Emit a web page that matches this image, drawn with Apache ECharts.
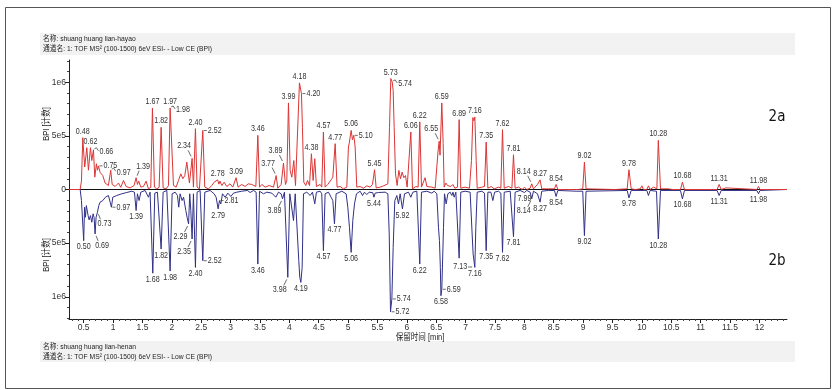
<!DOCTYPE html>
<html><head><meta charset="utf-8">
<script src="https://cdn.jsdelivr.net/npm/echarts@6/dist/echarts.min.js"></script>
<style>html,body{margin:0;padding:0;background:#fff}#c{width:834px;height:390px}</style>
</head><body><div id="c"></div>
<script>
// Retention time (min) and BPI (x1e5 counts) of the upper trace (shuang huang lian-hayao)
const hayaoTime = [0.25,0.44,0.462,0.485,0.502,0.518,0.553,0.581,0.615,0.638,0.666,0.689,0.717,0.734,0.751,0.779,0.825,0.865,0.921,0.96,0.985,1.035,1.092,1.131,1.177,1.222,1.29,1.358,1.392,1.415,1.437,1.472,1.517,1.562,1.602,1.642,1.67,1.704,1.744,1.784,1.818,1.852,1.903,1.943,1.971,1.994,2.028,2.073,2.113,2.153,2.187,2.221,2.255,2.277,2.3,2.345,2.368,2.402,2.43,2.47,2.493,2.527,2.561,2.624,2.68,2.72,2.75,2.78,2.80,2.82,2.85,2.89,2.936,2.99,3.037,3.094,3.128,3.19,3.247,3.3,3.361,3.43,3.464,3.492,3.532,3.588,3.656,3.73,3.775,3.804,3.861,3.9,3.934,3.957,3.985,4.014,4.042,4.076,4.105,4.139,4.172,4.206,4.223,4.246,4.28,4.309,4.343,4.376,4.405,4.433,4.461,4.524,4.552,4.58,4.609,4.654,4.711,4.74,4.78,4.813,4.864,4.921,4.978,5.006,5.023,5.052,5.074,5.097,5.12,5.148,5.205,5.262,5.319,5.375,5.415,5.45,5.478,5.546,5.603,5.677,5.705,5.727,5.75,5.767,5.784,5.807,5.835,5.864,5.892,5.92,5.948,5.977,6.005,6.039,6.068,6.096,6.152,6.192,6.22,6.249,6.283,6.311,6.34,6.425,6.482,6.51,6.53,6.55,6.565,6.595,6.618,6.635,6.664,6.692,6.72,6.749,6.783,6.817,6.862,6.89,6.918,6.992,7.066,7.1,7.123,7.14,7.157,7.18,7.197,7.276,7.322,7.35,7.379,7.436,7.486,7.56,7.6,7.628,7.657,7.731,7.788,7.815,7.843,7.9,7.962,8.002,8.041,8.098,8.126,8.155,8.223,8.268,8.296,8.41,8.512,8.54,8.57,8.865,8.894,8.92,8.994,9.022,9.05,9.545,9.75,9.78,9.818,9.886,9.971,10.0,10.027,10.084,10.112,10.14,10.198,10.255,10.28,10.317,10.453,10.48,10.51,10.657,10.69,10.725,11.28,11.315,11.35,11.43,11.457,11.956,11.985,12.01,12.47];
const hayaoBPI = [0,0,0.8,4.83,3.3,2.1,3.9,1.8,3.9,2.7,3.7,1.15,2.4,1.8,2.2,1.6,1.3,0.6,0.37,1.8,0.47,0.28,0.6,0.2,0.84,0.28,0.15,0.37,1.1,0.47,0.78,0.22,0.28,0.78,0.06,0.2,7.6,0.22,0.06,0.2,5.8,0.15,0.06,0.37,7.6,7.45,0.37,0.22,0.84,1.46,1.0,1.3,2.55,2.4,0.6,2.9,0.22,5.67,0.22,0.06,0.2,5.5,0.22,0.06,0.37,0.68,0.55,0.9,0.5,0.78,0.37,0.68,0.28,0.53,0.22,1.1,0.22,0.47,0.28,0.53,0.47,0.28,5.05,0.22,0.47,0.22,0.37,0.22,1.3,0.12,0.47,2.46,0.47,0.84,8.07,1.78,1.15,2.7,0.37,0.22,9.94,8.94,5.8,0.68,0.37,0.84,0.37,3.33,0.84,2.87,0.28,0.47,0.22,5.36,0.22,0.47,0.9,1.15,4.27,0.22,0.28,0.06,0.22,3.96,4.42,5.51,4.64,5.05,3.96,0.22,0.28,0.12,0.34,0.22,0.47,1.84,0.15,0.22,0.34,0.53,5.8,10.34,10.03,9.25,5.8,1.46,0.37,1.78,1.0,1.62,1.1,1.3,0.22,0.22,5.36,0.06,0.28,0.22,6.3,0.22,0.37,1.1,0.28,0.22,0.12,0.22,3.5,4.5,3.2,8.07,4.27,0.22,0.6,0.37,0.53,0.28,0.47,0.12,0.22,6.51,0.12,0.22,0.12,2.7,6.7,6.4,6.76,2.7,0.12,0.22,0.28,4.42,0.12,0.28,0.06,0.22,0.12,5.58,0.12,0.28,0.12,3.24,0.12,0.22,0,0.22,0,0.12,0.53,0.06,0.47,0.9,0.06,0.06,0.06,0.47,0,0,0.15,0,0.06,2.55,0.06,0,0.06,1.84,0.06,0,0.06,0.34,0,0,0.34,0,0.22,0.06,4.58,0.06,0.06,0.12,0,0,0.68,0,0,0.47,0,0.15,0,0,0.28,0,0];

// Retention time (min) and BPI (x1e5 counts) of the lower, mirrored trace (shuang huang lian-henan)
const henanTime = [0.25,0.44,0.462,0.5,0.515,0.53,0.545,0.558,0.575,0.592,0.615,0.638,0.66,0.677,0.694,0.711,0.734,0.757,0.779,0.825,0.87,0.921,0.95,0.972,0.995,1.063,1.148,1.233,1.318,1.364,1.392,1.415,1.443,1.472,1.545,1.602,1.63,1.676,1.71,1.755,1.818,1.852,1.915,1.971,2.005,2.056,2.096,2.118,2.141,2.175,2.2,2.238,2.26,2.285,2.305,2.323,2.345,2.368,2.402,2.43,2.482,2.527,2.561,2.652,2.72,2.754,2.788,2.811,2.834,2.862,2.908,2.953,3.004,3.049,3.106,3.19,3.287,3.333,3.39,3.435,3.464,3.492,3.56,3.617,3.702,3.77,3.815,3.861,3.884,3.917,3.974,4.008,4.042,4.071,4.1,4.133,4.161,4.178,4.196,4.218,4.241,4.297,4.354,4.394,4.433,4.461,4.524,4.552,4.58,4.609,4.665,4.711,4.74,4.768,4.796,4.893,4.967,4.995,5.023,5.052,5.08,5.109,5.143,5.205,5.245,5.279,5.319,5.358,5.42,5.44,5.46,5.517,5.631,5.677,5.7,5.722,5.745,5.767,5.795,5.83,5.858,5.886,5.925,5.96,6.028,6.068,6.102,6.17,6.22,6.249,6.34,6.425,6.465,6.51,6.538,6.555,6.57,6.58,6.595,6.624,6.641,6.669,6.698,6.737,6.766,6.785,6.805,6.834,6.862,6.89,6.918,6.992,7.077,7.111,7.128,7.14,7.157,7.174,7.197,7.276,7.322,7.35,7.379,7.43,7.464,7.493,7.56,7.6,7.628,7.657,7.759,7.788,7.815,7.843,7.928,8.002,8.041,8.098,8.126,8.155,8.223,8.268,8.296,8.41,8.512,8.54,8.57,8.894,8.994,9.022,9.05,9.75,9.78,9.818,10.084,10.112,10.14,10.249,10.28,10.317,10.657,10.69,10.725,11.28,11.315,11.35,11.956,11.985,12.01,12.47];
const henanBPI = [0,0,1.03,4.77,1.65,2.59,1.5,1.65,2.43,2.83,2.43,3.05,2.27,2.6,4.14,2.59,2.12,1.5,1.18,1.03,0.72,0.56,0.65,1.65,0.72,0.56,0.4,0.28,0.16,0.25,1.96,0.4,1.03,0.25,0.09,0.72,0.25,7.8,0.34,0.25,5.55,0.25,0.09,7.6,0.4,0.25,0.56,1.65,0.4,1.03,0.72,1.96,2.59,3.21,0.4,1.96,4.61,0.4,7.26,0.25,0.09,6.64,0.25,0.09,0.4,0.72,1.81,1.03,1.34,0.4,0.72,0.34,0.65,0.34,0.25,0.16,0.09,0.28,0.09,0.25,6.95,0.16,0.4,0.25,0.34,0.72,0.25,0.4,0.87,0.25,8.19,0.4,0.25,2.9,0.4,0.25,6.64,8.19,8.66,7.26,0.4,0.25,0.56,0.25,1.34,0.25,0.16,0.4,5.7,0.4,0.25,0.72,1.03,3.2,0.4,0.16,0.4,1.65,3.52,5.86,2.9,1.34,0.4,0.16,0.56,0.25,0.47,0.25,0.3,0.72,0.34,0.28,0.25,0.4,4.14,11.4,10.2,5.4,1.03,0.56,1.34,0.4,1.81,0.4,0.25,0.72,0.25,0.16,6.95,0.25,0.16,0.34,0.16,0.4,3.52,4.77,7.26,9.9,9.3,3.52,0.4,1.34,0.4,0.25,0.56,0.25,0.72,0.25,0.4,6.4,0.25,0.16,0.25,4.14,6.01,5.9,7.26,3.52,0.25,0.16,0.34,5.7,0.25,0.25,1.03,0.25,0.16,0.34,5.86,0.25,0.16,0.34,4.4,0.25,0.09,0.28,0.09,0.25,0.87,0.16,0.4,1.18,0.16,0.09,0.09,0.65,0.09,0.16,0.16,4.3,0.16,0.09,0.78,0.09,0.09,0.56,0.09,0.16,4.61,0.09,0.09,0.87,0.09,0.09,0.56,0.09,0.09,0.4,0.09,0];

// Peak annotations (retention times printed on the chart)
const hayaoPeakLabels = ['0.48','0.62','0.66','0.75','0.97','1.39','1.67','1.82','1.97','1.98','2.34','2.40','2.52','2.78','3.09','3.46','3.77','3.89','3.99','4.18','4.20','4.38','4.57','4.77','5.06','5.10','5.45','5.73','5.74','6.06','6.22','6.55','6.59','6.89','7.16','7.35','7.62','7.81','8.14','8.27','8.54','9.02','9.78','10.28','10.68','11.31','11.98'];
const henanPeakLabels = ['0.50','0.69','0.73','0.97','1.39','1.68','1.82','1.98','2.29','2.35','2.40','2.52','2.79','2.81','3.46','3.89','3.98','4.19','4.57','4.77','5.06','5.44','5.72','5.74','5.92','6.22','6.58','6.59','7.13','7.16','7.35','7.62','7.81','7.99','8.14','8.27','8.54','9.02','9.78','10.28','10.68','11.31','11.98'];

// Axis ticks
const xTickLabels = [0.5,1,1.5,2,2.5,3,3.5,4,4.5,5,5.5,6,6.5,7,7.5,8,8.5,9,9.5,10,10.5,11,11.5,12];
const yTickValues = [-1000000,-500000,0,500000,1000000];
const yTickLabels = ['1e6','5e5','0','5e5','1e6'];

// ---- styling (not data) ----
const hayaoPlace = {'0.66':'hookR','0.75':'right','0.97':'hookR','1.39':'upRight','1.98':'hookR','2.34':'upLeft','2.52':'right','3.77':'upLeft','3.89':'upLeft','4.20':'right','5.10':'right','5.74':'hookR','6.55':'upLeft','8.14':'upLeft'};
const henanPlace = {'0.69':'downRight','0.73':'downRight','0.97':'right','2.29':'downLeft','2.35':'downLeft','2.52':'right','2.81':'right','3.89':'downLeft','3.98':'downLeft','5.72':'right','5.74':'right','6.59':'right','7.13':'leftLow','8.14':'downLeft'};
const RED = '#dc3535', BLUE = '#303088', TXT = '#333';
const FONT = '"Liberation Sans", "Noto Sans CJK SC", sans-serif';
const SX = 0.84;

function nearestIdx(times, t){let b=0;for(let i=1;i<times.length;i++){if(Math.abs(times[i]-t)<Math.abs(times[b]-t))b=i;}return b;}
const labelItems = [];
hayaoPeakLabels.forEach(s=>{const i=nearestIdx(hayaoTime,parseFloat(s));labelItems.push({t:hayaoTime[i],v:hayaoBPI[i]*1e5,text:s,place:hayaoPlace[s]||'above'});});
henanPeakLabels.forEach(s=>{const i=nearestIdx(henanTime,parseFloat(s));labelItems.push({t:henanTime[i],v:-henanBPI[i]*1e5,text:s,place:henanPlace[s]||'below'});});

const minorX=[];for(let k=3;k<=124;k++){const v=k/10;if(Math.abs(v*2-Math.round(v*2))>1e-6)minorX.push(+v.toFixed(1));}
const minorY=[];for(let k=-12;k<=12;k++){if(k%5!==0)minorY.push(k*100000);}

function txt(x,y,text,align,va){return {type:'text',x:x,y:y,scaleX:SX,style:{text:text,fontSize:8.5,fontFamily:FONT,fill:TXT,align:align,verticalAlign:va}};}
function ln(pts){return {type:'polyline',shape:{points:pts},style:{stroke:'#444',lineWidth:0.8,fill:null}};}

function renderLabel(params, api){
  const d = labelItems[params.dataIndex];
  const p = api.coord([api.value(0), api.value(1)]);
  const x=p[0], y=p[1]; const ch=[];
  switch(d.place){
    case 'above': ch.push(txt(x,y-2,d.text,'center','bottom')); break;
    case 'below': ch.push(txt(x,y+2,d.text,'center','top')); break;
    case 'right': ch.push(ln([[x+1,y],[x+4,y]])); ch.push(txt(x+5,y,d.text,'left','middle')); break;
    case 'hookR': ch.push(ln([[x+1,y-1],[x+3,y-2],[x+5,y+1]])); ch.push(txt(x+6,y+2,d.text,'left','middle')); break;
    case 'upLeft': ch.push(ln([[x-1,y-2],[x-4,y-8]])); ch.push(txt(x-8,y-8,d.text,'center','bottom')); break;
    case 'downLeft': ch.push(ln([[x-1,y+2],[x-4,y+8]])); ch.push(txt(x-8,y+8,d.text,'center','top')); break;
    case 'upRight': ch.push(ln([[x+1,y-2],[x+3,y-7]])); ch.push(txt(x+7,y-7,d.text,'center','bottom')); break;
    case 'downRight': ch.push(ln([[x+1,y+2],[x+3,y+7]])); ch.push(txt(x+7,y+7,d.text,'center','top')); break;
    case 'leftLow': ch.push(ln([[x-5,y+13],[x-1,y+13]])); ch.push(txt(x-6,y+13,d.text,'right','middle')); break;
  }
  return {type:'group',children:ch};
}

const chart = echarts.init(document.getElementById('c'), null, {renderer:'canvas'});
const xMin=0.25, xMax=12.47, yLim=1207000;
chart.setOption({
  animation:false,
  backgroundColor:'#fff',
  grid:{left:69,right:47,top:60,bottom:71},
  xAxis:[
    {type:'value',min:xMin,max:xMax,splitLine:{show:false},
     axisLine:{show:true,onZero:false,lineStyle:{color:'#222',width:1}},
     axisTick:{show:true,length:4,customValues:xTickLabels,lineStyle:{color:'#222'}},
     axisLabel:{show:true,customValues:xTickLabels,fontSize:8.5,color:TXT,margin:4,fontFamily:FONT,formatter:v=>String(v)}},
    {type:'value',min:xMin,max:xMax,position:'bottom',splitLine:{show:false},
     axisLine:{show:false,onZero:false},
     axisTick:{show:true,length:2,customValues:minorX,lineStyle:{color:'#444'}},
     axisLabel:{show:false}}
  ],
  yAxis:[
    {type:'value',min:-yLim,max:yLim,splitLine:{show:false},
     axisLine:{show:true,onZero:false,lineStyle:{color:'#222',width:1}},
     axisTick:{show:true,length:4,customValues:yTickValues,lineStyle:{color:'#222'}},
     axisLabel:{show:true,customValues:yTickValues,fontSize:8.5,color:TXT,margin:3,fontFamily:FONT,
       formatter:v=>yTickLabels[yTickValues.indexOf(v)]}},
    {type:'value',min:-yLim,max:yLim,position:'left',splitLine:{show:false},
     axisLine:{show:false,onZero:false},
     axisTick:{show:true,length:2,customValues:minorY,lineStyle:{color:'#444'}},
     axisLabel:{show:false}}
  ],
  series:[
    {type:'line',name:'henan',xAxisIndex:0,yAxisIndex:0,symbol:'none',z:2,
     lineStyle:{color:BLUE,width:1},data:henanTime.map((t,i)=>[t,-henanBPI[i]*1e5])},
    {type:'line',name:'hayao',xAxisIndex:0,yAxisIndex:0,symbol:'none',z:3,
     lineStyle:{color:RED,width:1},data:hayaoTime.map((t,i)=>[t,hayaoBPI[i]*1e5]),
     markLine:{silent:true,symbol:'none',label:{show:false},lineStyle:{color:'#111',width:1,type:'solid'},data:[{yAxis:0}],z:1}},
    {type:'custom',name:'labels',xAxisIndex:0,yAxisIndex:0,z:5,clip:false,silent:true,
     renderItem:renderLabel,data:labelItems.map(d=>[d.t,d.v])}
  ],
  graphic:[
    {type:'rect',left:3,top:5,shape:{width:825,height:381},style:{fill:null,stroke:'#555',lineWidth:1},z:0},
    {type:'rect',shape:{x:40,y:33,width:755,height:22},style:{fill:'#f2f2f2'},z:0},
    {type:'text',x:43,y:38.5,scaleX:SX,style:{text:'名称: shuang huang lian-hayao',fontSize:8,fontFamily:FONT,fill:'#222',verticalAlign:'middle'}},
    {type:'text',x:43,y:49,scaleX:SX,style:{text:'通道名: 1: TOF MS² (100-1500) 6eV ESI- - Low CE (BPI)',fontSize:8,fontFamily:FONT,fill:'#222',verticalAlign:'middle'}},
    {type:'rect',shape:{x:40,y:341,width:755,height:21},style:{fill:'#f2f2f2'},z:0},
    {type:'text',x:43,y:346.5,scaleX:SX,style:{text:'名称: shuang huang lian-henan',fontSize:8,fontFamily:FONT,fill:'#222',verticalAlign:'middle'}},
    {type:'text',x:43,y:356.5,scaleX:SX,style:{text:'通道名: 1: TOF MS² (100-1500) 6eV ESI- - Low CE (BPI)',fontSize:8,fontFamily:FONT,fill:'#222',verticalAlign:'middle'}},
    {type:'text',x:420,y:338,scaleX:SX,style:{text:'保留时间 [min]',fontSize:9,fontFamily:FONT,fill:'#222',align:'center',verticalAlign:'middle'}},
    {type:'text',x:47,y:124,rotation:Math.PI/2,scaleX:SX,style:{text:'BPI [计数]',fontSize:9,fontFamily:FONT,fill:'#222',align:'center',verticalAlign:'middle'}},
    {type:'text',x:47,y:255,rotation:Math.PI/2,scaleX:SX,style:{text:'BPI [计数]',fontSize:9,fontFamily:FONT,fill:'#222',align:'center',verticalAlign:'middle'}},
    {type:'text',x:777,y:117.5,style:{text:'2a',fontSize:15,fontFamily:'"DejaVu Sans Condensed","Liberation Sans",sans-serif',fill:'#111',align:'center',verticalAlign:'middle'}},
    {type:'text',x:777,y:261,style:{text:'2b',fontSize:15,fontFamily:'"DejaVu Sans Condensed","Liberation Sans",sans-serif',fill:'#111',align:'center',verticalAlign:'middle'}}
  ]
});
</script></body></html>
